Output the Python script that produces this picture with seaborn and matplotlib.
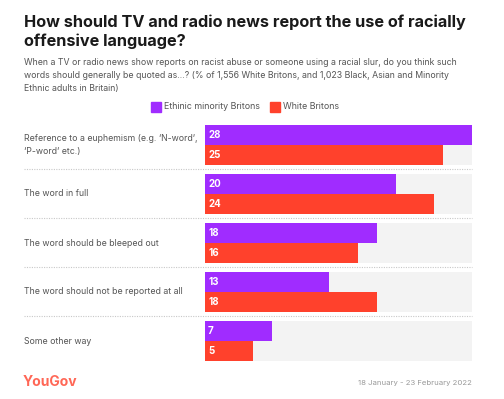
import matplotlib
matplotlib.use("Agg")
import matplotlib.pyplot as plt
from matplotlib.lines import Line2D
from matplotlib.patches import Rectangle
import seaborn as sns
import pandas as pd

categories = [
    "Reference to a euphemism (e.g. \u2018N-word\u2019,\n\u2018P-word\u2019 etc.)",
    "The word in full",
    "The word should be bleeped out",
    "The word should not be reported at all",
    "Some other way",
]
series_names = ["Ethinic minority Britons", "White Britons"]
ethnic_minority = [28, 20, 18, 13, 7]
white = [25, 24, 16, 18, 5]
colors = ["#a02cff", "#ff412c"]

title = "How should TV and radio news report the use of racially\noffensive language?"
subtitle = ("When a TV or radio news show reports on racist abuse or someone using a racial slur, do you think such\n"
            "words should generally be quoted as...? (% of 1,556 White Britons, and 1,023 Black, Asian and Minority\n"
            "Ethnic adults in Britain)")
date_text = "18 January - 23 February 2022"

sns.set_style("white")
plt.rcParams["font.family"] = ["Inter", "DejaVu Sans"]

W, H = 504, 399
fig = plt.figure(figsize=(W / 100, H / 100), dpi=100)

def fx(px):
    return px / W

def fy(py):
    return 1 - py / H

df = pd.DataFrame({
    "category": categories * 2,
    "group": [series_names[0]] * len(categories) + [series_names[1]] * len(categories),
    "value": ethnic_minority + white,
})

x0, x1 = 205, 472
ytop, ybot = 120.5, 365.5
ax = fig.add_axes([fx(x0), fy(ybot), fx(x1 - x0), (ybot - ytop) / H])

xmax = max(ethnic_minority + white)
bw = 0.816
ax.barh(range(len(categories)), [xmax] * len(categories), height=bw, color="#f3f3f3",
        linewidth=0, zorder=0)
sns.barplot(data=df, y="category", x="value", hue="group", orient="h",
            palette=colors, width=bw, ax=ax, legend=False, saturation=1, zorder=2,
            linewidth=0, edgecolor="none")
ax.set_xlim(0, xmax)
ax.set_ylim(len(categories) - 0.5, -0.5)
ax.axis("off")

# value labels
for i, (a, b) in enumerate(zip(ethnic_minority, white)):
    for v, off in ((a, -bw / 4), (b, bw / 4)):
        ax.annotate(str(v), (0, i + off), xytext=(2.2, 0), textcoords="offset points",
                    ha="left", va="center", color="white", fontsize=7, fontweight="bold", zorder=3)

# category labels
for i, c in enumerate(categories):
    ax.annotate(c, (fx(24), i), xycoords=("figure fraction", "data"),
                ha="left", va="center", color="#555555",
                fontsize=6.3, linespacing=1.6)

# separators
for i in range(len(categories) - 1):
    ysep = 169 + i * 49
    fig.lines.append(Line2D([fx(24), fx(472)], [fy(ysep), fy(ysep)], transform=fig.transFigure,
                            color="#c8c8c8", lw=0.8, linestyle=(0, (1, 1.2))))

# title & subtitle
fig.text(fx(24), fy(15), title, ha="left", va="top", fontsize=11.7, fontweight="bold",
         color="#1a1a1a", linespacing=1.22)
fig.text(fx(24), fy(58), subtitle, ha="left", va="top", fontsize=6.3, color="#555555",
         linespacing=1.6)

# legend
legend_items = [(151, series_names[0], colors[0]), (270, series_names[1], colors[1])]
for xp, name, col in legend_items:
    fig.patches.append(Rectangle((fx(xp), fy(112)), fx(10), 10 / H, transform=fig.transFigure,
                                 color=col))
    fig.text(fx(xp + 13), fy(106.5), name, ha="left", va="center", fontsize=6.4, color="#555555")

# footer
fig.text(fx(23), fy(382), "YouGov", ha="left", va="center", fontsize=10, fontweight="bold",
         color="#ff412c", alpha=0.8)
fig.text(fx(472), fy(383), date_text, ha="right", va="center", fontsize=5.6, color="#999999")

fig.savefig("out.png", dpi=100)
